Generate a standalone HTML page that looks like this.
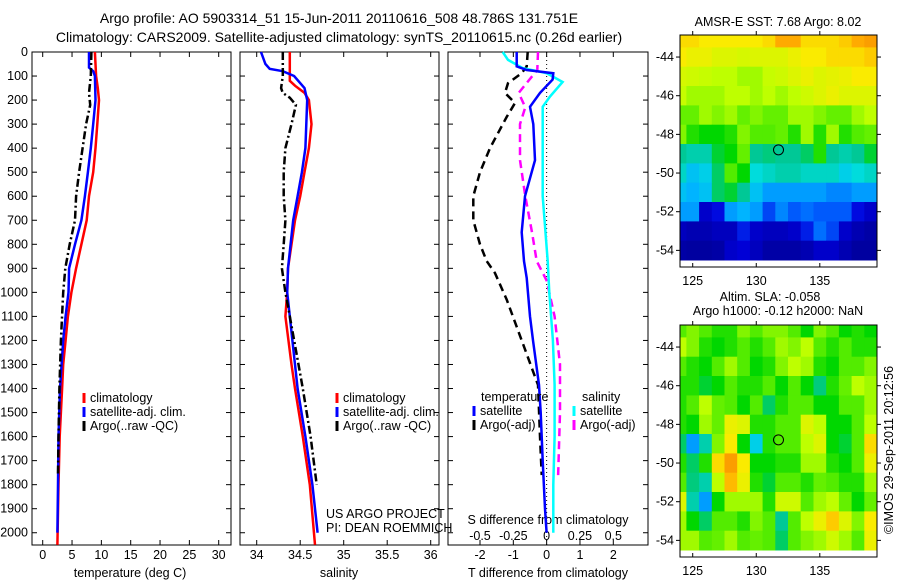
<!DOCTYPE html>
<html><head><meta charset="utf-8"><style>
body{margin:0;background:#fff;}
svg{display:block;font-family:"Liberation Sans",sans-serif;}
text{font-size:12.5px;fill:#000;}
</style></head><body>
<svg id="fig" width="900" height="580" viewBox="0 0 900 580" xmlns="http://www.w3.org/2000/svg">
<rect width="900" height="580" fill="#fff"/>
<text x="339" y="23" text-anchor="middle" style="font-size:14px">Argo profile: AO 5903314_51 15-Jun-2011 20110616_508 48.786S 131.751E</text>
<text x="339" y="42" text-anchor="middle" style="font-size:14px">Climatology: CARS2009. Satellite-adjusted climatology: synTS_20110615.nc (0.26d earlier)</text>
<g id="g1"></g><g id="g2"></g><g id="g3"></g><g id="gm1"></g><g id="gm2"></g>
</svg>
<script>
// ---- data ----
const depthTicks=[0,100,200,300,400,500,600,700,800,900,1000,1100,1200,1300,1400,1500,1600,1700,1800,1900,2000];
const tempTicks=[0,5,10,15,20,25,30];
const salTicks=[34,34.5,35,35.5,36];
const tdTicks=[-2,-1,0,1,2];
const sdTicks=[-0.5,-0.25,0,0.25,0.5];
const sdTickLabels=["-0.5","-0.25","0","0.25","0.5"];
const tClimDepth=[0,100,150,200,300,400,500,600,700,800,900,1000,1100,1200,1300,1400,1600,1800,2050];
const tClimVal=[8.9,9.1,9.4,9.6,9.3,9.0,8.6,7.9,7.5,6.6,5.7,4.9,4.3,3.9,3.5,3.3,2.9,2.7,2.5];
const tSatDepth=[0,65,80,100,200,300,400,500,600,700,800,900,1000,1100,1200,1400,1600,1800,2000];
const tSatVal=[7.9,7.9,8.6,8.9,9.0,8.6,8.2,7.7,7.2,6.6,5.5,4.5,4.4,3.9,3.5,2.95,2.7,2.6,2.5];
const tArgoDepth=[0,100,170,220,300,400,500,600,700,800,900,1000,1200,1400,1600,1760];
const tArgoVal=[8.3,8.2,7.9,8.1,7.4,6.8,6.2,5.7,5.5,4.6,3.85,3.5,3.1,2.85,2.7,2.6];
const sClimDepth=[0,120,140,170,200,300,400,500,600,700,800,900,1000,1100,1300,1400,1600,1800,2050];
const sClimVal=[34.38,34.38,34.44,34.55,34.6,34.63,34.6,34.55,34.5,34.44,34.4,34.36,34.35,34.33,34.4,34.44,34.53,34.61,34.67];
const sSatDepth=[0,50,70,80,100,150,200,300,400,500,600,700,800,900,1000,1100,1300,1400,1600,1800,2000];
const sSatVal=[34.05,34.1,34.15,34.3,34.43,34.55,34.58,34.57,34.56,34.52,34.47,34.42,34.39,34.36,34.35,34.38,34.44,34.47,34.56,34.64,34.7];
const sArgoDepth=[0,100,150,170,190,220,300,400,500,600,700,800,900,1000,1100,1300,1400,1600,1800];
const sArgoVal=[34.3,34.3,34.28,34.3,34.38,34.45,34.4,34.33,34.31,34.31,34.33,34.31,34.29,34.33,34.38,34.48,34.53,34.62,34.69];
const dTSatDepth=[0,60,75,88,115,170,228,300,450,600,750,870,940,1100,1200,1385,1500,1700,1900,2000];
const dTSatVal=[-0.9,-0.9,-0.6,0.2,0.18,-0.2,-0.5,-0.4,-0.35,-0.65,-0.75,-0.68,-0.6,-0.5,-0.41,-0.23,-0.18,-0.12,-0.05,0];
const dTArgoDepth=[0,60,88,130,170,212,270,400,500,600,700,800,870,920,1030,1200,1385,1600,1760];
const dTArgoVal=[-0.57,-0.6,-0.75,-1.16,-1.25,-0.95,-1.2,-1.7,-2.0,-2.2,-2.2,-2.0,-1.8,-1.55,-1.2,-0.75,-0.26,-0.2,-0.15];
const dSSatDepth=[0,33,67,88,125,185,228,600,870,1000,1200,1385,1600,1800,2000];
const dSSatVal=[-0.33,-0.29,-0.18,0,0.12,0.025,-0.03,-0.03,0.008,0.02,0.047,0.06,0.06,0.05,0.05];
const dSArgoDepth=[0,75,95,170,230,300,450,600,750,870,950,1100,1300,1500,1780];
const dSArgoVal=[-0.065,-0.07,-0.1,-0.21,-0.16,-0.2,-0.2,-0.16,-0.11,-0.075,0,0.06,0.1,0.1,0.085];
const mapLons=[124,125,126,127,128,129,130,131,132,133,134,135,136,137,138,139];
const mapLats=[-43,-44,-45,-46,-47,-48,-49,-50,-51,-52,-53,-54];
const mapLonTicks=[125,130,135];
const mapLatTicks=[-44,-46,-48,-50,-52,-54];
const sstGrid=[
[0.72,0.72,0.7,0.7,0.7,0.7,0.7,0.72,0.78,0.78,0.72,0.72,0.72,0.74,0.78,0.8],
[0.7,0.68,0.68,0.66,0.66,0.65,0.66,0.66,0.66,0.68,0.7,0.7,0.72,0.72,0.72,0.74],
[0.65,0.64,0.63,0.62,0.62,0.6,0.6,0.63,0.64,0.66,0.68,0.66,0.67,0.68,0.7,0.7],
[0.63,0.6,0.6,0.6,0.62,0.62,0.6,0.62,0.6,0.62,0.64,0.66,0.68,0.66,0.66,0.66],
[0.56,0.56,0.6,0.58,0.6,0.56,0.58,0.56,0.56,0.6,0.6,0.58,0.56,0.56,0.6,0.62],
[0.58,0.52,0.5,0.5,0.52,0.58,0.55,0.55,0.56,0.52,0.6,0.52,0.6,0.52,0.55,0.56],
[0.44,0.42,0.42,0.48,0.5,0.56,0.44,0.45,0.44,0.44,0.46,0.52,0.44,0.42,0.44,0.48],
[0.4,0.34,0.36,0.46,0.55,0.5,0.38,0.4,0.42,0.42,0.4,0.4,0.4,0.36,0.38,0.4],
[0.34,0.32,0.34,0.46,0.48,0.44,0.34,0.3,0.3,0.3,0.3,0.3,0.28,0.28,0.3,0.3],
[0.3,0.3,0.12,0.16,0.3,0.32,0.3,0.22,0.28,0.24,0.26,0.24,0.24,0.24,0.16,0.12],
[0.1,0.08,0.08,0.1,0.1,0.18,0.12,0.1,0.1,0.12,0.18,0.26,0.22,0.12,0.08,0.06],
[0.06,0.05,0.05,0.06,0.12,0.14,0.1,0.06,0.06,0.06,0.08,0.12,0.12,0.08,0.05,0.05]];
const slaGrid=[
[0.55,0.58,0.55,0.52,0.52,0.58,0.55,0.58,0.58,0.55,0.5,0.58,0.55,0.5,0.52,0.5],
[0.62,0.58,0.52,0.5,0.52,0.55,0.52,0.55,0.6,0.58,0.62,0.55,0.52,0.55,0.52,0.52],
[0.55,0.52,0.5,0.55,0.6,0.55,0.5,0.52,0.58,0.62,0.6,0.52,0.5,0.55,0.55,0.58],
[0.52,0.52,0.48,0.5,0.55,0.52,0.52,0.55,0.5,0.55,0.5,0.45,0.52,0.56,0.62,0.6],
[0.52,0.55,0.62,0.56,0.55,0.5,0.55,0.46,0.52,0.55,0.55,0.5,0.5,0.55,0.55,0.6],
[0.52,0.5,0.6,0.56,0.68,0.66,0.52,0.52,0.55,0.55,0.66,0.62,0.5,0.5,0.55,0.62],
[0.46,0.3,0.42,0.58,0.7,0.5,0.36,0.52,0.55,0.55,0.62,0.66,0.5,0.48,0.55,0.72],
[0.52,0.46,0.52,0.72,0.8,0.7,0.5,0.5,0.52,0.52,0.6,0.6,0.52,0.5,0.55,0.68],
[0.55,0.45,0.42,0.62,0.76,0.68,0.52,0.48,0.55,0.55,0.52,0.56,0.55,0.52,0.52,0.6],
[0.66,0.42,0.3,0.5,0.6,0.6,0.6,0.52,0.64,0.64,0.55,0.6,0.62,0.56,0.5,0.56],
[0.6,0.5,0.46,0.55,0.55,0.52,0.58,0.55,0.44,0.55,0.62,0.68,0.74,0.66,0.58,0.7],
[0.6,0.6,0.55,0.56,0.6,0.55,0.56,0.55,0.46,0.55,0.58,0.6,0.64,0.6,0.55,0.68]];
const argoLon=131.75, argoLat=-48.8;

// ---- helpers ----
const NS="http://www.w3.org/2000/svg";
function mk(parent,tag,attrs){const e=document.createElementNS(NS,tag);for(const k in attrs)e.setAttribute(k,attrs[k]);parent.appendChild(e);return e;}
function txt(parent,x,y,s,anchor){const t=mk(parent,"text",{x:x,y:y,"text-anchor":anchor||"start"});t.textContent=s;return t;}
const yTop=52,yBot=545,dMax=2051;
const yD=d=>yTop+d/dMax*(yBot-yTop);
function lin(d0,d1,r0,r1){return v=>r0+(v-d0)/(d1-d0)*(r1-r0);}

function axesBox(g,x0,x1,name){
  const r=mk(g,"rect",{x:x0,y:yTop,width:x1-x0,height:yBot-yTop,fill:"none",stroke:"#000","stroke-width":1});
  
  
  depthTicks.forEach(d=>{const y=yD(d);
    mk(g,"line",{x1:x0,x2:x0+5,y1:y,y2:y,stroke:"#000"});
    mk(g,"line",{x1:x1-5,x2:x1,y1:y,y2:y,stroke:"#000"});
  });
}
function profile(g,ds,vs,xf,color,dash,name){
  const pts=ds.map((d,i)=>xf(vs[i]).toFixed(1)+","+yD(d).toFixed(1)).join(" ");
  const p=mk(g,"polyline",{points:pts,fill:"none",stroke:color,"stroke-width":2.5,"stroke-dasharray":dash||"none"});
  
  
}
function xTicks(g,ticks,labels,xf,yLab,inside){
  ticks.forEach((t,i)=>{const x=xf(t);
    if(!inside){mk(g,"line",{x1:x,x2:x,y1:yBot,y2:yBot-5,stroke:"#000"});mk(g,"line",{x1:x,x2:x,y1:yTop,y2:yTop+5,stroke:"#000"});}
    const l=txt(g,x,yLab,labels[i],"middle");
    
    
  });
}
function legend(g,x,y,items){
  items.forEach((it,i)=>{
    const yy=y+i*14;
    mk(g,"line",{x1:x,x2:x,y1:yy-9,y2:yy+1,stroke:it[0],"stroke-width":3});
    const t=txt(g,x+6,yy,it[1]);
    
    
  });
}

// ---- panel 1: temperature ----
const g1=document.getElementById("g1");
const xT=lin(0,30,42.7,218.7);
axesBox(g1,32,231,"temperature-axes");
depthTicks.forEach(d=>{const l=txt(g1,28,yD(d)+4,String(d),"end");});
xTicks(g1,tempTicks,tempTicks.map(String),xT,559);
const xl1=txt(g1,130,577,"temperature (deg C)","middle");
profile(g1,tClimDepth,tClimVal,xT,"#ff0000",null,"temp-climatology-line");
profile(g1,tSatDepth,tSatVal,xT,"#0000ff",null,"temp-satellite-line");
profile(g1,tArgoDepth,tArgoVal,xT,"#000",'8,3,2,3',"temp-argo-line");
legend(g1,84,402,[["#ff0000","climatology"],["#0000ff","satellite-adj. clim."],["#000","Argo(..raw -QC)"]]);

// ---- panel 2: salinity ----
const g2=document.getElementById("g2");
const xS=lin(34,36,256.7,430.7);
axesBox(g2,240,439,"salinity-axes");
xTicks(g2,salTicks,salTicks.map(String),xS,559);
const xl2=txt(g2,339,577,"salinity","middle");
profile(g2,sClimDepth,sClimVal,xS,"#ff0000",null,"sal-climatology-line");
profile(g2,sSatDepth,sSatVal,xS,"#0000ff",null,"sal-satellite-line");
profile(g2,sArgoDepth,sArgoVal,xS,"#000",'8,3,2,3',"sal-argo-line");
legend(g2,337,402,[["#ff0000","climatology"],["#0000ff","satellite-adj. clim."],["#000","Argo(..raw -QC)"]]);
const c1=txt(g2,326,518,"US ARGO PROJECT");
const c2=txt(g2,326,532,"PI: DEAN ROEMMICH");

// ---- panel 3: differences ----
const g3=document.getElementById("g3");
const xDT=lin(-2,2,480,613.3);
const xDS=v=>xDT(v*4);
axesBox(g3,448,648,"difference-axes");
mk(g3,"line",{x1:xDT(0),x2:xDT(0),y1:yTop,y2:yBot,stroke:"#000","stroke-dasharray":"1,3"});
xTicks(g3,tdTicks,tdTicks.map(String),xDT,559);
const st=txt(g3,548,524,"S difference from climatology","middle");
sdTicks.forEach((s,i)=>{const l=txt(g3,xDS(s),540,sdTickLabels[i],"middle");});
const xl3=txt(g3,548,577,"T difference from climatology","middle");
profile(g3,dTArgoDepth,dTArgoVal,xDT,"#000",'8,5',"dT-argo-line");
profile(g3,dSArgoDepth,dSArgoVal,xDS,"#ff00ff",'8,5',"dS-argo-line");
profile(g3,dSSatDepth,dSSatVal,xDS,"#00ffff",null,"dS-satellite-line");
profile(g3,dTSatDepth,dTSatVal,xDT,"#0000ff",null,"dT-satellite-line");
const lt=txt(g3,481,401,"temperature");
legend(g3,474,415,[["#0000ff","satellite"],["#000","Argo(-adj)"]]);
const ls=txt(g3,582,401,"salinity");
legend(g3,574,415,[["#00ffff","satellite"],["#ff00ff","Argo(-adj)"]]);

// ---- maps ----
const cmapStops=[[0,[0,0,130]],[0.15,[0,0,220]],[0.25,[0,100,255]],[0.32,[0,180,255]],[0.38,[0,220,220]],[0.44,[0,200,150]],[0.5,[0,215,0]],[0.56,[100,240,0]],[0.62,[190,255,0]],[0.7,[250,235,0]],[0.78,[255,170,0]],[0.9,[230,100,0]],[1,[200,60,0]]];
function cmap(v){v=Math.max(0,Math.min(1,v));
  for(let i=1;i<cmapStops.length;i++){const a=cmapStops[i-1],b=cmapStops[i];
    if(v<=b[0]){const f=(v-a[0])/(b[0]-a[0]);const c=a[1].map((x,k)=>Math.round(x+(b[1][k]-x)*f));return `rgb(${c[0]},${c[1]},${c[2]})`;}}
  return "rgb(200,60,0)";}
function drawMap(g,top,grid,name){
  const x0=680,x1=877,y0=top,y1=top+232;
  const xL=lin(124,139.5,x0,x1), yL=lin(-42.86,-54.86,y0,y1);
  grid.forEach((row,i)=>row.forEach((v,j)=>{
    const lon=mapLons[j],lat=mapLats[i];
    const xa=xL(Math.max(124,lon-0.5)),xb=xL(Math.min(139.5,lon+0.5));
    const ya=yL(Math.min(-42.86,lat+0.5)),yb=yL(Math.max(-54.86,lat-0.5));
    const c=mk(g,"rect",{x:xa.toFixed(1),y:ya.toFixed(1),width:(xb-xa+0.5).toFixed(1),height:(yb-ya+0.5).toFixed(1),fill:cmap(v)});
    
    
  }));
  const b=mk(g,"rect",{x:x0,y:y0,width:x1-x0,height:y1-y0,fill:"none",stroke:"#000"});
  
  
  mapLonTicks.forEach(t=>{const x=xL(t);
    mk(g,"line",{x1:x,x2:x,y1:y1,y2:y1-4,stroke:"#000"});mk(g,"line",{x1:x,x2:x,y1:y0,y2:y0-4,stroke:"#000"});
    const l=txt(g,x,y1+18,String(t),"middle");});
  mapLatTicks.forEach(t=>{const y=yL(t);
    mk(g,"line",{x1:x0,x2:x0-4,y1:y,y2:y,stroke:"#000"});mk(g,"line",{x1:x1,x2:x1+4,y1:y,y2:y,stroke:"#000"});
    const l=txt(g,x0-6,y+4,String(t),"end");});
  const m=mk(g,"circle",{cx:xL(argoLon),cy:yL(argoLat),r:5,fill:"none",stroke:"#000"});
  
  
}
const gm1=document.getElementById("gm1"),gm2=document.getElementById("gm2");
drawMap(gm1,35,sstGrid,"sst-map");
drawMap(gm2,325,slaGrid,"sla-map");
const t1=txt(gm1,778,26,"AMSR-E SST: 7.68 Argo: 8.02","middle");
const t2=txt(gm2,770,301,"Altim. SLA: -0.058","middle");
const t3=txt(gm2,778,315,"Argo h1000: -0.12 h2000: NaN","middle");
const cr=txt(gm2,0,0,"©IMOS 29-Sep-2011 20:12:56","middle");
cr.setAttribute("transform","translate(893,450) rotate(-90)");


</script>
</body></html>
